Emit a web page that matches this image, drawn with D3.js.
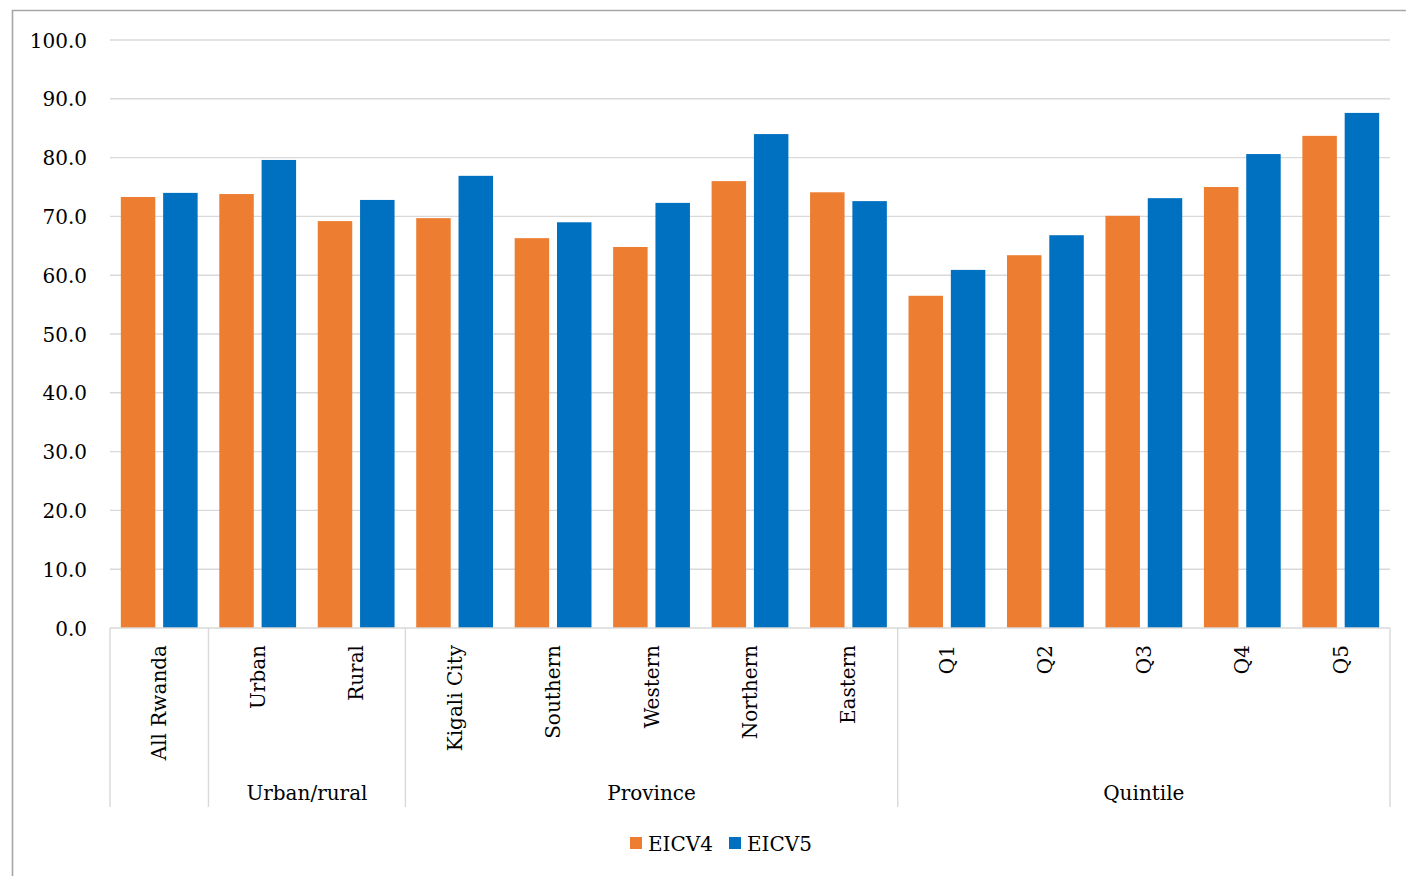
<!DOCTYPE html>
<html>
<head>
<meta charset="utf-8">
<script src="https://cdn.jsdelivr.net/npm/d3@7"></script>
<style>
  html, body { margin: 0; padding: 0; background: #fff; }
  svg { display: block; }
  text { font-family: "DejaVu Serif", "Liberation Serif", serif; fill: #000; }
</style>
</head>
<body>
<svg id="chart" width="1406" height="876"></svg>
<script>
// Categories along the x axis and the group each one belongs to
const categories = ["All Rwanda", "Urban", "Rural", "Kigali City", "Southern", "Western", "Northern", "Eastern", "Q1", "Q2", "Q3", "Q4", "Q5"];
const groups = [
  { label: "", from: "All Rwanda", to: "All Rwanda" },
  { label: "Urban/rural", from: "Urban", to: "Rural" },
  { label: "Province", from: "Kigali City", to: "Eastern" },
  { label: "Quintile", from: "Q1", to: "Q5" }
];
const seriesNames = ["EICV4", "EICV5"];
const eicv4 = [73.3, 73.8, 69.2, 69.7, 66.3, 64.8, 76.0, 74.1, 56.5, 63.4, 70.1, 75.0, 83.7];
const eicv5 = [74.0, 79.6, 72.8, 76.9, 69.0, 72.3, 84.0, 72.6, 60.9, 66.8, 73.1, 80.6, 87.6];
const yTicks = [0, 10, 20, 30, 40, 50, 60, 70, 80, 90, 100];

const colors = { EICV4: "#ed7d31", EICV5: "#0070c0" };
const gridColor = "#d9d9d9";

const svg = d3.select("#chart");
const W = 1406, H = 876;
const plot = { left: 110, right: 1390, top: 40, bottom: 628 };

// outer frame
svg.append("path")
  .attr("d", `M12.5,${H + 2} L12.5,10.5 L${W + 2},10.5`)
  .attr("fill", "none").attr("stroke", "#a6a6a6").attr("stroke-width", 1.6);

const x = d3.scaleBand().domain(categories).range([plot.left, plot.right]).paddingInner(0.22).paddingOuter(0.11);
const x0 = d3.scaleBand().domain(categories).range([plot.left, plot.right]).padding(0);
const xs = d3.scaleBand().domain(seriesNames).range([0, x.bandwidth()]).paddingInner(0.185);
const y = d3.scaleLinear().domain([0, 100]).range([plot.bottom, plot.top]);

// horizontal gridlines
svg.append("g").selectAll("line").data(yTicks.filter(d => d > 0)).join("line")
  .attr("x1", plot.left).attr("x2", plot.right)
  .attr("y1", d => y(d)).attr("y2", d => y(d))
  .attr("stroke", gridColor).attr("stroke-width", 1.4);

// y axis labels
const yAxis = d3.axisLeft(y).tickValues(yTicks).tickFormat(d3.format(".1f")).tickSize(0).tickPadding(0);
const yg = svg.append("g").attr("transform", `translate(87,0)`).call(yAxis);
yg.select(".domain").remove();
yg.selectAll("text").attr("font-size", 20).attr("font-family", "DejaVu Serif").attr("fill", "#000").attr("dy", "0.35em");

// bars
const data = categories.map((c, i) => ({ cat: c, values: [{ s: "EICV4", v: eicv4[i] }, { s: "EICV5", v: eicv5[i] }] }));
const cg = svg.append("g").selectAll("g").data(data).join("g")
  .attr("transform", d => `translate(${x(d.cat)},0)`);
cg.selectAll("rect").data(d => d.values).join("rect")
  .attr("x", d => xs(d.s)).attr("width", xs.bandwidth())
  .attr("y", d => y(d.v)).attr("height", d => y(0) - y(d.v))
  .attr("fill", d => colors[d.s]);

// x axis baseline
svg.append("line")
  .attr("x1", plot.left).attr("x2", plot.right)
  .attr("y1", plot.bottom).attr("y2", plot.bottom)
  .attr("stroke", gridColor).attr("stroke-width", 1.4);

// group separators
const sepBottom = 807;
const sepXs = [plot.left].concat(groups.map(g => x0(g.to) + x0.bandwidth()));
svg.append("g").selectAll("line").data(sepXs).join("line")
  .attr("x1", d => d).attr("x2", d => d)
  .attr("y1", plot.bottom).attr("y2", sepBottom)
  .attr("stroke", gridColor).attr("stroke-width", 1.4);

// category labels (rotated)
svg.append("g").selectAll("text").data(categories).join("text")
  .attr("transform", d => `translate(${x0(d) + x0.bandwidth() / 2},645) rotate(-90)`)
  .attr("text-anchor", "end").attr("dy", "0.35em")
  .attr("font-size", 20)
  .text(d => d);

// group labels
svg.append("g").selectAll("text").data(groups.filter(g => g.label)).join("text")
  .attr("x", g => (x0(g.from) + x0(g.to) + x0.bandwidth()) / 2)
  .attr("y", 800)
  .attr("text-anchor", "middle").attr("font-size", 20)
  .text(g => g.label);

// legend
const legend = svg.append("g").selectAll("g").data(seriesNames).join("g")
  .attr("transform", (d, i) => `translate(${630 + i * 99},837)`);
legend.append("rect").attr("width", 12).attr("height", 12).attr("fill", d => colors[d]);
legend.append("text").attr("x", 18).attr("y", 14).attr("font-size", 20).text(d => d);
</script>
</body>
</html>
